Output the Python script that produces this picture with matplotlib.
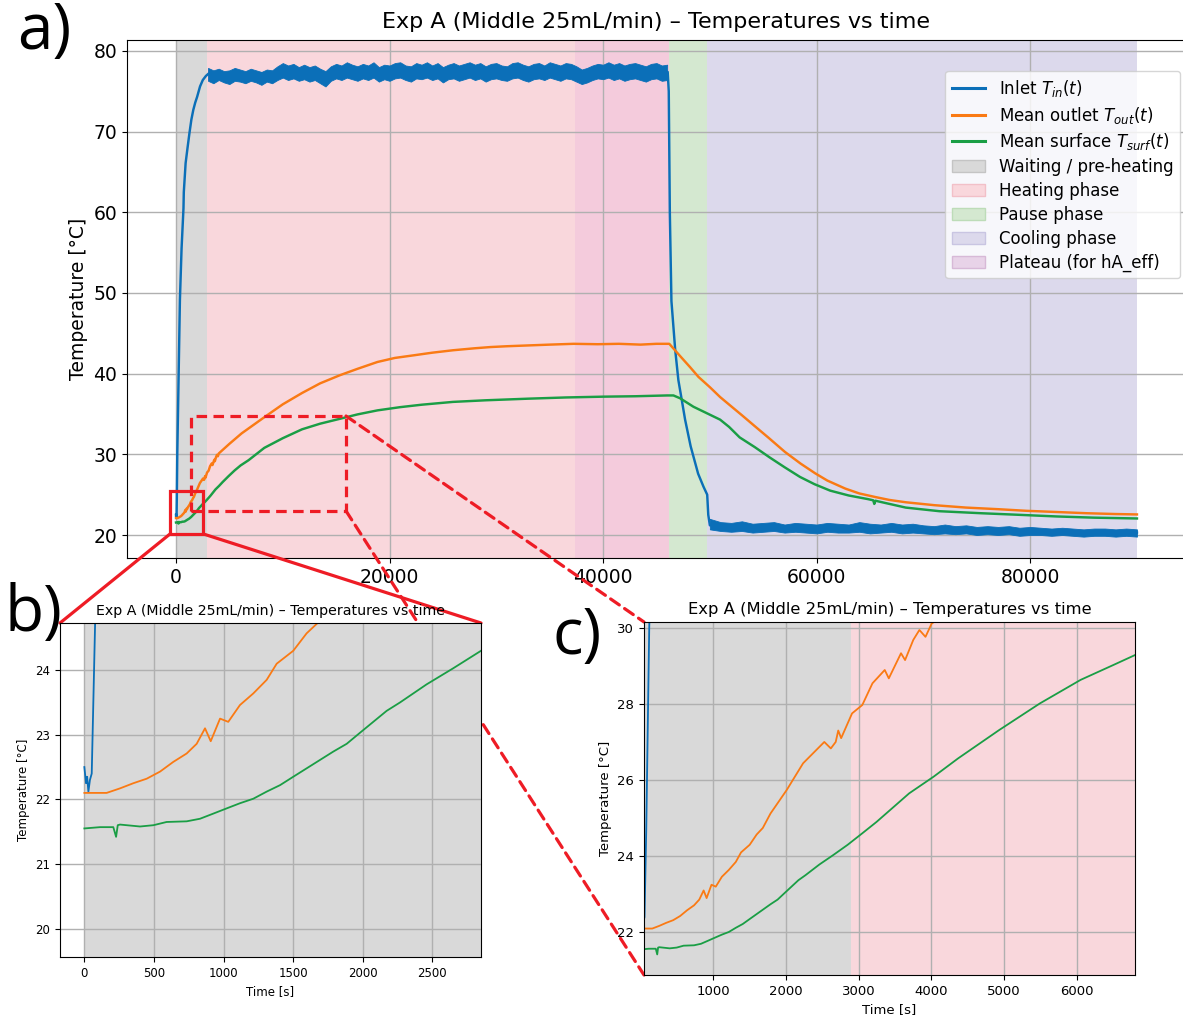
import matplotlib
matplotlib.use("Agg")
import matplotlib.pyplot as plt
from matplotlib.patches import Rectangle, ConnectionPatch, Patch
from matplotlib.lines import Line2D

# ---------------- data ----------------
inlet_t = [0, 12, 20, 29, 40, 53, 77, 118, 200, 365, 520, 700, 730, 900, 1080, 1257, 1440, 1620, 1800, 1975,
           2250, 2510, 2800, 3050, 46050, 46150, 46250, 46400, 46750, 47050, 47400, 47680, 48200, 48900, 49400,
           49750, 49850, 50000, 90000]
inlet_T = [22.5, 22.25, 22.35, 22.12, 22.3, 22.4, 24.7, 30.0, 36.3, 49.1, 55.5, 60.5, 62.5, 66.1, 68.0, 69.8, 71.5,
           72.7, 73.6, 74.3, 75.6, 76.4, 76.9, 77.2, 77.4, 75.0, 60.0, 49.0, 43.0, 39.2, 36.5, 34.3, 31.0, 27.6, 26.0,
           25.0, 22.5, 21.2, 20.3]

# noise envelope of the inlet signal (heating plateau and cooling)
inlet_heat_band_t = [3000, 3500, 4000, 4500, 5000, 5500, 6000, 6500, 7000, 7500,
                     8000, 8500, 9000, 9500, 10000, 10500, 11000, 11500, 12000, 12500,
                     13000, 13500, 14000, 14500, 15000, 15500, 16000, 16500, 17000, 17500,
                     18000, 18500, 19000, 19500, 20000, 20500, 21000, 21500, 22000, 22500,
                     23000, 23500, 24000, 24500, 25000, 25500, 26000, 26500, 27000, 27500,
                     28000, 28500, 29000, 29500, 30000, 30500, 31000, 31500, 32000, 32500,
                     33000, 33500, 34000, 34500, 35000, 35500, 36000, 36500, 37000, 37500,
                     38000, 38500, 39000, 39500, 40000, 40500, 41000, 41500, 42000, 42500,
                     43000, 43500, 44000, 44500, 45000, 45500, 46000]
inlet_heat_band_lo = [76.3, 76.0, 76.4, 76.1, 75.9, 76.3, 76.2, 76.0, 76.3, 76.1,
                      75.8, 76.2, 76.0, 76.4, 76.7, 76.4, 76.6, 76.3, 76.5, 76.2,
                      76.4, 76.0, 75.6, 76.3, 76.6, 76.4, 76.7, 76.5, 76.3, 76.6,
                      76.4, 76.7, 76.2, 76.5, 76.3, 76.6, 76.7, 76.4, 76.2, 76.6,
                      76.5, 76.7, 76.4, 76.6, 76.1, 76.5, 76.6, 76.3, 76.5, 76.7,
                      76.4, 76.6, 76.2, 76.5, 76.6, 76.4, 76.3, 76.6, 76.7, 76.4,
                      76.2, 76.5, 76.6, 76.4, 76.7, 76.5, 76.3, 76.6, 76.5, 76.2,
                      75.9, 76.1, 76.4, 76.6, 76.5, 76.7, 76.4, 76.6, 76.3, 76.5,
                      76.6, 76.4, 76.2, 76.5, 76.6, 76.3, 76.4]
inlet_heat_band_hi = [77.9, 77.6, 77.8, 77.5, 77.6, 77.9, 77.7, 77.5, 77.8, 77.6,
                      77.4, 77.7, 77.6, 78.1, 78.5, 78.2, 78.4, 78.0, 78.3, 78.0,
                      78.2, 77.8, 77.5, 78.1, 78.4, 78.2, 78.6, 78.3, 78.1, 78.4,
                      78.2, 78.6, 78.0, 78.3, 78.2, 78.5, 78.6, 78.2, 78.1, 78.5,
                      78.3, 78.6, 78.2, 78.5, 78.0, 78.3, 78.5, 78.2, 78.4, 78.6,
                      78.3, 78.5, 78.1, 78.4, 78.5, 78.2, 78.1, 78.5, 78.6, 78.3,
                      78.1, 78.4, 78.5, 78.2, 78.6, 78.4, 78.2, 78.5, 78.4, 78.1,
                      77.7, 77.9, 78.2, 78.4, 78.3, 78.6, 78.3, 78.5, 78.2, 78.4,
                      78.5, 78.3, 78.1, 78.4, 78.5, 78.2, 78.3]
inlet_cool_band_t = [50000, 51000, 52000, 53000, 54000, 55000, 56000, 57000, 58000, 59000,
                     60000, 61000, 62000, 63000, 64000, 65000, 66000, 67000, 68000, 69000,
                     70000, 71000, 72000, 73000, 74000, 75000, 76000, 77000, 78000, 79000,
                     80000, 81000, 82000, 83000, 84000, 85000, 86000, 87000, 88000, 89000, 90000]
inlet_cool_band_lo = [20.7, 20.5, 20.4, 20.5, 20.3, 20.4, 20.5, 20.3, 20.4, 20.3,
                      20.2, 20.4, 20.3, 20.3, 20.4, 20.2, 20.3, 20.4, 20.2, 20.3,
                      20.2, 20.1, 20.2, 20.1, 20.2, 20.0, 20.1, 20.0, 20.1, 19.9,
                      20.0, 20.0, 19.9, 20.0, 19.9, 19.8, 19.9, 19.9, 19.8, 19.9, 19.8]
inlet_cool_band_hi = [22.0, 21.6, 21.5, 21.7, 21.4, 21.5, 21.6, 21.3, 21.5, 21.4,
                      21.3, 21.5, 21.4, 21.3, 21.6, 21.4, 21.3, 21.5, 21.3, 21.4,
                      21.2, 21.1, 21.3, 21.1, 21.2, 21.0, 21.1, 21.0, 21.1, 20.9,
                      21.0, 20.9, 20.8, 20.9, 20.8, 20.7, 20.8, 20.8, 20.7, 20.8, 20.7]

outlet_t = [0, 160, 256, 352, 448, 544, 639, 735, 807, 867, 908, 975, 1034, 1118, 1214, 1310, 1382, 1501, 1597,
            1681, 1787, 2011, 2236, 2528, 2618, 2685, 2720, 2760, 2910, 3051, 3191, 3360, 3416, 3584, 3640, 3753,
            3837, 3921, 4006, 5000, 6148, 8268, 10000, 11800, 13500, 15335, 17000, 18870, 20500, 22400, 24000,
            25935, 28000, 29470, 31000, 33000, 35000, 37240, 39500, 41480, 43500, 45000, 46200, 46600, 47200, 48150,
            48930, 50020, 50960, 52000, 53000, 54200, 55500, 57030, 58500, 59860, 61000, 62690, 64000, 65520, 66800,
            68340, 71000, 73990, 77000, 79640, 82500, 85300, 88000, 90000]
outlet_T = [22.1, 22.1, 22.17, 22.25, 22.32, 22.43, 22.58, 22.71, 22.86, 23.1, 22.9, 23.25, 23.2, 23.46, 23.64,
            23.85, 24.1, 24.3, 24.57, 24.74, 25.12, 25.74, 26.44, 27.0, 26.83, 27.0, 27.3, 27.1, 27.75, 27.97, 28.54,
            28.89, 28.67, 29.33, 29.15, 29.68, 29.94, 29.76, 30.11, 31.3, 32.6, 34.6, 36.2, 37.6, 38.8, 39.8, 40.6,
            41.45, 41.95, 42.3, 42.6, 42.9, 43.15, 43.3, 43.4, 43.5, 43.6, 43.7, 43.65, 43.7, 43.6, 43.7, 43.7, 43.1,
            42.2, 40.8, 39.6, 38.3, 37.1, 35.95, 34.85, 33.5, 32.05, 30.3, 28.85, 27.65, 26.75, 25.75, 25.15, 24.7,
            24.35, 24.06, 23.7, 23.4, 23.2, 23.0, 22.85, 22.7, 22.6, 22.55]

surf_t = [0, 113, 208, 228, 240, 256, 400, 496, 591, 735, 831, 927, 1022, 1118, 1214, 1310, 1406, 1501, 1597, 1693,
          1789, 1885, 1980, 2076, 2172, 2268, 2459, 2651, 2850, 3050, 3247, 3696, 4034, 4371, 4933, 5494, 6056,
          6506, 6803, 8268, 10000, 11800, 13500, 15335, 17000, 18870, 21000, 23000, 25935, 29000, 33000, 36500,
          40070, 43000, 46000, 46590, 47210, 48460, 49710, 50960, 51800, 52790, 54200, 55620, 57000, 58440, 59800,
          61270, 63000, 64800, 65300, 65400, 65500, 66500, 68340, 71500, 75400, 79000, 82470, 86000, 90000]
surf_T = [21.55, 21.57, 21.57, 21.42, 21.6, 21.61, 21.58, 21.6, 21.65, 21.66, 21.7, 21.78, 21.86, 21.94, 22.01,
          22.12, 22.22, 22.35, 22.48, 22.61, 22.74, 22.86, 23.03, 23.2, 23.37, 23.5, 23.78, 24.03, 24.3, 24.6, 24.9,
          25.65, 26.09, 26.57, 27.31, 28.01, 28.63, 29.02, 29.28, 30.8, 32.0, 33.1, 33.8, 34.4, 34.95, 35.45, 35.85,
          36.15, 36.5, 36.7, 36.9, 37.05, 37.15, 37.2, 37.3, 37.3, 36.95, 35.9, 35.1, 34.3, 33.4, 32.1, 30.9, 29.6,
          28.4, 27.2, 26.3, 25.5, 24.9, 24.45, 24.3, 23.85, 24.25, 23.95, 23.4, 22.95, 22.7, 22.5, 22.3, 22.15,
          22.05]

phase_names = ["Waiting / pre-heating", "Heating phase", "Pause phase", "Cooling phase", "Plateau (for hA_eff)"]
phase_start = [0, 2900, 46200, 49700, 37400]
phase_end = [2900, 46200, 49700, 90000, 46200]

series_labels = [r"Inlet $T_{in}(t)$", r"Mean outlet $T_{out}(t)$", r"Mean surface $T_{surf}(t)$"]
title = "Exp A (Middle 25mL/min) \u2013 Temperatures vs time"

# ---------------- styles ----------------
C_IN, C_OUT, C_SURF = "#0b6fb8", "#fa7a14", "#1a9e45"
phase_colors = ["#d9d9d9", "#f9d7dc", "#d4e8d0", "#dcd9ec", "#f4cbdc"]
legend_phase_face = ["#d9d9d9", "#f9d7dc", "#d4e8d0", "#dcd9ec", "#e8d3e8"]
legend_phase_edge = ["#c4c4c4", "#f2c0c8", "#bddcb8", "#c9c5e2", "#d7b9d7"]
RED = "#ee1c25"

W, H = 1183, 1016
fig = plt.figure(figsize=(W / 100, H / 100), dpi=100)


def rect(l, t, r, b):
    return [l / W, 1 - b / H, (r - l) / W, (b - t) / H]


ax_a = fig.add_axes(rect(127, 40, 1185, 558), zorder=0)
ax_b = fig.add_axes(rect(60, 623, 481, 957), zorder=2)
ax_c = fig.add_axes(rect(644, 622, 1135, 975), zorder=2)


def draw(ax, lw, with_plateau):
    for i, (s, e, c) in enumerate(zip(phase_start, phase_end, phase_colors)):
        if i == 4 and not with_plateau:
            continue
        ax.axvspan(s, e, color=c, lw=0, zorder=0.5 + 0.1 * (i == 4))
    ax.fill_between(inlet_heat_band_t, inlet_heat_band_lo, inlet_heat_band_hi, color=C_IN, lw=0.6, zorder=2)
    ax.fill_between(inlet_cool_band_t, inlet_cool_band_lo, inlet_cool_band_hi, color=C_IN, lw=0.6, zorder=2)
    ax.plot(inlet_t, inlet_T, color=C_IN, lw=lw, zorder=2)
    ax.plot(outlet_t, outlet_T, color=C_OUT, lw=lw, zorder=2.1)
    ax.plot(surf_t, surf_T, color=C_SURF, lw=lw, zorder=2.2)
    ax.grid(True, color="#b0b0b0", lw=1.0)


# ---- panel a ----
draw(ax_a, 1.75, True)
ax_a.set_xlim(-4590, 94500)
ax_a.set_ylim(17.15, 81.36)
ax_a.set_xticks([0, 20000, 40000, 60000, 80000])
ax_a.set_yticks([20, 30, 40, 50, 60, 70, 80])
ax_a.tick_params(labelsize=13.5)
ax_a.set_ylabel("Temperature [\u00b0C]", fontsize=13.5)
ax_a.set_title(title, fontsize=16, pad=9)

handles = [Line2D([], [], color=c, lw=2.2) for c in (C_IN, C_OUT, C_SURF)]
handles += [Patch(facecolor=f, edgecolor=e, lw=1) for f, e in zip(legend_phase_face, legend_phase_edge)]
ax_a.legend(handles, series_labels + phase_names, loc="upper right", bbox_to_anchor=(1180 / W, 1 - 71 / H),
            bbox_transform=fig.transFigure, borderaxespad=0, fontsize=12, labelspacing=0.35)

# ---- panel b ----
draw(ax_b, 1.3, False)
ax_b.set_xlim(-175, 2850)
ax_b.set_ylim(19.56, 24.73)
ax_b.set_xticks([0, 500, 1000, 1500, 2000, 2500])
ax_b.set_yticks([20, 21, 22, 23, 24])
ax_b.tick_params(labelsize=8.5)
ax_b.set_xlabel("Time [s]", fontsize=8.5)
ax_b.set_ylabel("Temperature [\u00b0C]", fontsize=8.5)
ax_b.set_title(title, fontsize=10.2)

# ---- panel c ----
draw(ax_c, 1.3, False)
ax_c.set_xlim(46, 6805)
ax_c.set_ylim(20.88, 30.15)
ax_c.set_xticks([1000, 2000, 3000, 4000, 5000, 6000])
ax_c.set_yticks([22, 24, 26, 28, 30])
ax_c.tick_params(labelsize=9.5)
ax_c.set_xlabel("Time [s]", fontsize=9.5)
ax_c.set_ylabel("Temperature [\u00b0C]", fontsize=9.5)
ax_c.set_title(title, fontsize=11.8)

# ---- zoom annotations ----
zoom_b = (-560, 20.13, 3120, 5.37)
zoom_c = (1405, 22.98, 14520, 11.77)
DASH = (0, (3.3, 2.0))
ax_a.add_patch(Rectangle(zoom_b[:2], zoom_b[2], zoom_b[3], fill=False, ec=RED, lw=2.3, zorder=6, clip_on=False))
ax_a.add_patch(Rectangle(zoom_c[:2], zoom_c[2], zoom_c[3], fill=False, ec=RED, lw=2.3, ls=DASH, zorder=6))

for xyA, xyB in [((zoom_b[0], zoom_b[1]), (0, 1)), ((zoom_b[0] + zoom_b[2], zoom_b[1]), (1, 1))]:
    fig.add_artist(ConnectionPatch(xyA=xyA, coordsA=ax_a.transData, xyB=xyB, coordsB=ax_b.transAxes,
                                   color=RED, lw=2.3, zorder=1))
for xyA, xyB in [((zoom_c[0] + zoom_c[2], zoom_c[1] + zoom_c[3]), (0, 1)), ((zoom_c[0] + zoom_c[2], zoom_c[1]), (0, 0))]:
    fig.add_artist(ConnectionPatch(xyA=xyA, coordsA=ax_a.transData, xyB=xyB, coordsB=ax_c.transAxes,
                                   color=RED, lw=2.3, ls=DASH, zorder=1))

# ---- panel letters ----
for lab, x, y in [("a)", 17, 0), ("b)", 4, 582), ("c)", 552, 605)]:
    fig.text(x / W, 1 - y / H, lab, fontsize=46, ha="left", va="top", family=["Open Sans", "DejaVu Sans"])

fig.savefig("out.png", dpi=100)
